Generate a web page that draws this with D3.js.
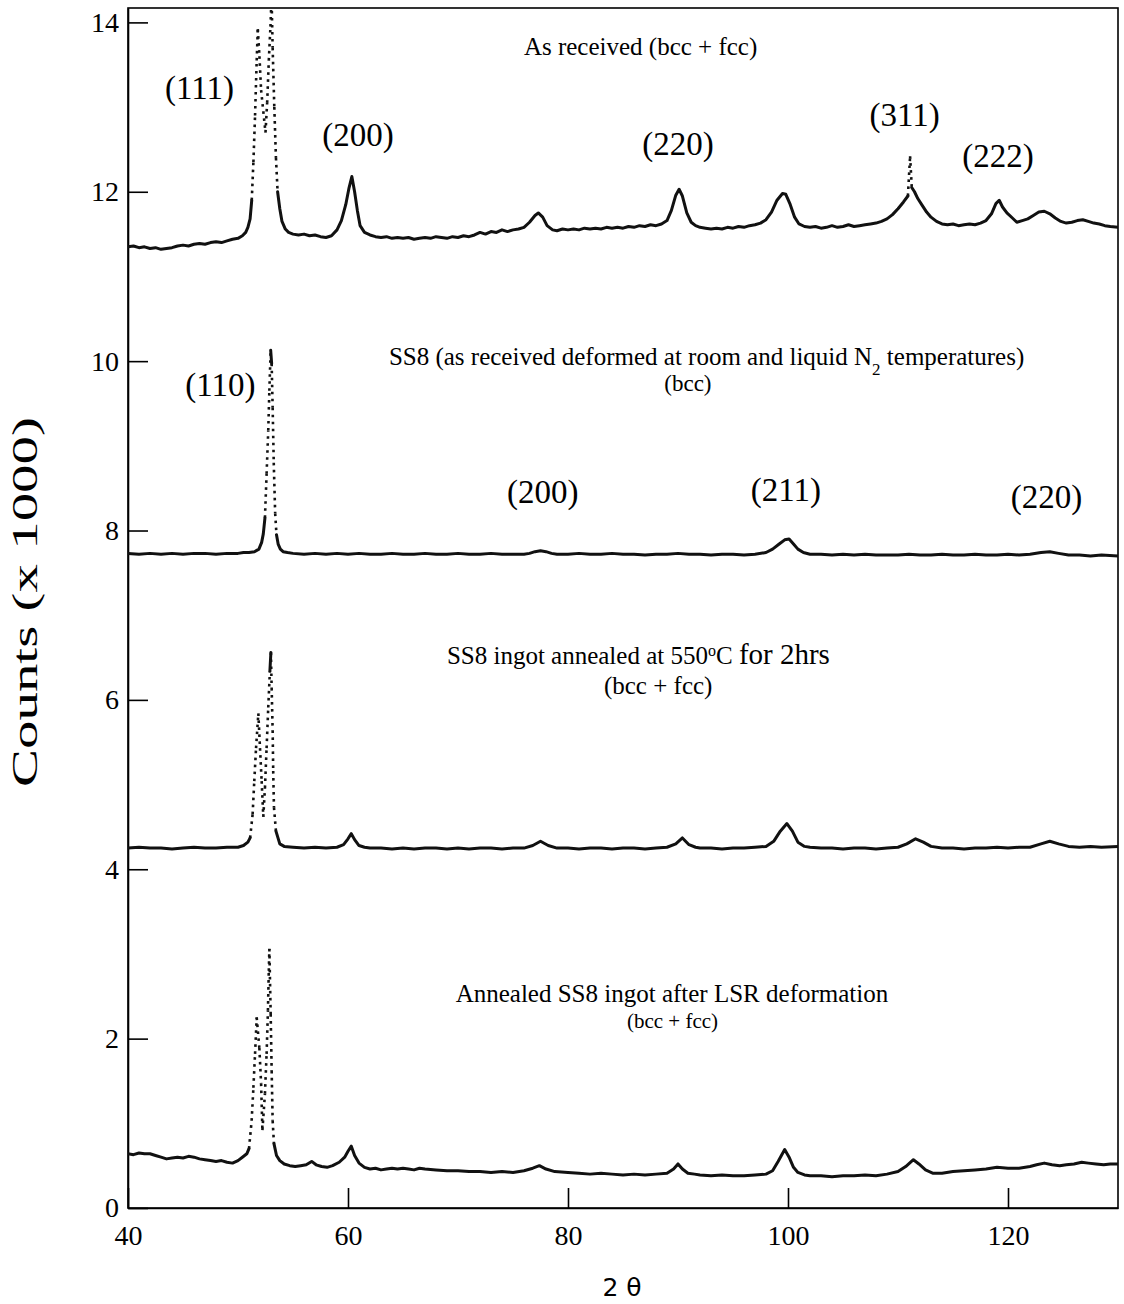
<!DOCTYPE html>
<html lang="en">
<head>
<meta charset="utf-8">
<script src="https://cdn.jsdelivr.net/npm/d3@7"></script>
<style>
body { margin:0; background:#fff; }
svg { display:block; }
path.trace {
	fill:none;
	stroke:#111;
	stroke-width:3;
	stroke-linejoin:round;
	stroke-linecap:round;
}
line.dots {
	stroke:#111;
	stroke-width:2.6;
	stroke-dasharray:2.6,4.4;
}
.axis path, .axis line { stroke:#000; stroke-width:1.6; }
.axis text { font-family:"Liberation Serif", serif; font-size:28px; fill:#000; }
text.lbl { font-family:"Liberation Serif", serif; fill:#000; }
</style>
</head>
<body>
<svg id="chart"></svg>
<script>
// 2-theta / counts (x1000), top to bottom
var asReceived = [[40,11.35],[40.5,11.36],[41,11.34],[41.5,11.35],[42,11.33],[42.5,11.34],[43,11.32],[43.5,11.33],[44,11.34],[44.5,11.36],
	[45,11.37],[45.5,11.36],[46,11.38],[46.5,11.39],[47,11.38],[47.5,11.40],[48,11.41],[48.5,11.40],[49,11.42],[49.5,11.44],
	[50,11.45],[50.4,11.48],[50.7,11.52],[50.9,11.58],[51.1,11.68],[51.25,11.9],[51.4,12.35],[51.55,12.9],[51.7,13.55],[51.8,13.92],
	[51.95,13.6],[52.1,13.2],[52.3,12.95],[52.5,12.70],[52.65,13.05],[52.8,13.55],[52.95,13.95],[53.05,14.3],[53.15,13.7],[53.3,13.0],
	[53.45,12.4],[53.6,12.0],[53.8,11.8],[54,11.65],[54.3,11.56],[54.6,11.52],[55,11.50],[55.5,11.49],[56,11.50],[56.5,11.48],
	[57,11.49],[57.5,11.47],[58,11.46],[58.5,11.48],[59,11.55],[59.4,11.66],[59.8,11.85],[60.1,12.05],[60.35,12.18],[60.6,12.0],
	[60.85,11.78],[61.1,11.60],[61.5,11.52],[62,11.49],[62.5,11.47],[63,11.46],[63.5,11.47],[64,11.45],[64.5,11.46],[65,11.45],
	[65.5,11.46],[66,11.44],[66.5,11.45],[67,11.46],[67.5,11.45],[68,11.47],[68.5,11.46],[69,11.45],[69.5,11.47],[70,11.46],
	[70.5,11.48],[71,11.47],[71.5,11.49],[72,11.52],[72.5,11.50],[73,11.53],[73.5,11.52],[74,11.55],[74.5,11.53],[75,11.55],
	[75.5,11.56],[76,11.58],[76.5,11.64],[77,11.72],[77.3,11.75],[77.7,11.70],[78.1,11.60],[78.6,11.55],[79,11.54],[79.5,11.56],
	[80,11.55],[80.5,11.56],[81,11.55],[81.5,11.57],[82,11.56],[82.5,11.57],[83,11.56],[83.5,11.58],[84,11.57],[84.5,11.58],
	[85,11.57],[85.5,11.59],[86,11.58],[86.5,11.60],[87,11.59],[87.5,11.61],[88,11.60],[88.5,11.62],[89,11.66],[89.4,11.78],
	[89.8,11.96],[90.1,12.03],[90.4,11.95],[90.8,11.75],[91.2,11.64],[91.6,11.60],[92,11.58],[92.5,11.57],[93,11.56],[93.5,11.57],
	[94,11.56],[94.5,11.58],[95,11.57],[95.5,11.59],[96,11.58],[96.5,11.60],[97,11.61],[97.5,11.63],[98,11.67],[98.5,11.76],
	[99,11.90],[99.5,11.98],[99.8,11.97],[100.2,11.85],[100.6,11.70],[101,11.62],[101.5,11.59],[102,11.58],[102.5,11.59],[103,11.57],
	[103.5,11.58],[104,11.60],[104.5,11.58],[105,11.59],[105.5,11.61],[106,11.59],[106.5,11.60],[107,11.61],[107.5,11.62],[108,11.63],
	[108.5,11.65],[109,11.68],[109.5,11.73],[110,11.80],[110.5,11.88],[110.9,11.95],[111.1,12.42],[111.25,12.05],[111.5,12.0],[111.8,11.92],
	[112.2,11.84],[112.6,11.76],[113,11.70],[113.5,11.65],[114,11.62],[114.5,11.61],[115,11.62],[115.5,11.60],[116,11.61],[116.5,11.62],
	[117,11.61],[117.5,11.63],[118,11.66],[118.5,11.74],[118.9,11.86],[119.2,11.90],[119.5,11.82],[119.9,11.75],[120.4,11.69],[120.8,11.64],
	[121.3,11.66],[121.8,11.68],[122.3,11.72],[122.8,11.76],[123.3,11.77],[123.8,11.74],[124.3,11.69],[124.8,11.65],[125.3,11.63],[125.8,11.64],
	[126.3,11.66],[126.8,11.67],[127.3,11.65],[127.8,11.63],[128.3,11.62],[128.8,11.60],[129.3,11.59],[130,11.58]];

var ss8 = [[40,7.73],[41,7.72],[42,7.73],[43,7.72],[44,7.73],[45,7.72],[46,7.73],[47,7.73],[48,7.72],[49,7.73],
	[50,7.73],[50.5,7.74],[51,7.74],[51.5,7.75],[51.9,7.78],[52.15,7.86],[52.3,7.96],[52.45,8.15],[52.6,8.67],[52.75,9.18],
	[52.85,9.65],[52.97,10.13],[53.06,9.97],[53.15,9.45],[53.25,8.8],[53.38,8.2],[53.5,7.95],[53.65,7.84],[53.85,7.78],[54.1,7.75],
	[54.5,7.74],[55,7.73],[56,7.72],[57,7.73],[58,7.72],[59,7.73],[60,7.72],[61,7.73],[62,7.72],[63,7.72],
	[64,7.73],[65,7.72],[66,7.72],[67,7.73],[68,7.72],[69,7.72],[70,7.73],[71,7.72],[72,7.72],[73,7.73],
	[74,7.72],[75,7.72],[76,7.72],[76.5,7.73],[77,7.75],[77.5,7.76],[78,7.75],[78.5,7.73],[79,7.72],[80,7.72],
	[81,7.73],[82,7.72],[83,7.72],[84,7.73],[85,7.72],[86,7.72],[87,7.71],[88,7.72],[89,7.72],[90,7.73],
	[91,7.72],[92,7.72],[93,7.71],[94,7.72],[95,7.72],[96,7.71],[97,7.72],[98,7.74],[98.6,7.78],[99.2,7.84],
	[99.7,7.89],[100.1,7.90],[100.5,7.84],[100.9,7.78],[101.4,7.74],[102,7.72],[103,7.72],[104,7.71],[105,7.72],[106,7.71],
	[107,7.72],[108,7.71],[109,7.71],[110,7.71],[111,7.72],[112,7.71],[113,7.71],[114,7.72],[115,7.71],[116,7.71],
	[117,7.72],[118,7.71],[119,7.71],[120,7.72],[121,7.71],[122,7.72],[123,7.74],[123.8,7.75],[124.6,7.73],[125.5,7.71],
	[126.5,7.71],[127.5,7.70],[128.5,7.71],[130,7.70]];

var annealed = [[40,4.25],[41,4.26],[42,4.25],[43,4.25],[44,4.24],[45,4.25],[46,4.26],[47,4.25],[48,4.25],[49,4.26],
	[50,4.26],[50.5,4.28],[50.9,4.32],[51.1,4.37],[51.33,4.65],[51.48,5.04],[51.64,5.43],[51.85,5.84],[52.0,5.43],[52.15,5.04],
	[52.3,4.62],[52.45,4.96],[52.6,5.43],[52.75,5.91],[52.9,6.34],[52.99,6.56],[53.06,6.14],[53.15,5.64],[53.2,5.16],[53.27,4.73],
	[53.45,4.45],[53.8,4.30],[54.2,4.27],[55,4.26],[56,4.25],[57,4.26],[58,4.25],[59,4.26],[59.6,4.29],[60,4.36],
	[60.3,4.42],[60.6,4.35],[61,4.28],[61.5,4.26],[62,4.25],[63,4.25],[64,4.24],[65,4.25],[66,4.24],[67,4.25],
	[68,4.25],[69,4.24],[70,4.25],[71,4.24],[72,4.25],[73,4.25],[74,4.24],[75,4.25],[76,4.25],[76.8,4.28],
	[77.5,4.33],[78.2,4.28],[79,4.25],[80,4.25],[81,4.24],[82,4.25],[83,4.25],[84,4.24],[85,4.25],[86,4.25],
	[87,4.24],[88,4.25],[89,4.26],[89.8,4.30],[90.4,4.37],[91,4.29],[91.6,4.26],[92,4.25],[93,4.25],[94,4.24],
	[95,4.25],[96,4.25],[97,4.26],[98,4.27],[98.7,4.33],[99.3,4.45],[99.9,4.54],[100.4,4.45],[100.9,4.32],[101.5,4.27],
	[102,4.26],[103,4.25],[104,4.25],[105,4.24],[106,4.25],[107,4.25],[108,4.24],[109,4.25],[110,4.26],[110.8,4.30],
	[111.6,4.36],[112.3,4.32],[113,4.27],[114,4.25],[115,4.25],[116,4.24],[117,4.25],[118,4.25],[119,4.26],[120,4.25],
	[121,4.26],[122,4.26],[123,4.30],[123.8,4.33],[124.6,4.30],[125.5,4.27],[126.5,4.26],[127.5,4.27],[128.5,4.26],[130,4.27]];

var annealedLSR = [[40,0.64],[40.5,0.63],[41,0.65],[41.5,0.64],[42,0.64],[42.5,0.62],[43,0.60],[43.5,0.58],[44,0.59],[44.5,0.60],
	[45,0.59],[45.5,0.61],[46,0.60],[46.5,0.58],[47,0.57],[47.5,0.56],[48,0.55],[48.5,0.56],[49,0.54],[49.5,0.53],
	[50,0.56],[50.4,0.60],[50.8,0.64],[51,0.70],[51.24,1.03],[51.4,1.42],[51.55,1.82],[51.7,2.25],[51.94,1.89],[52.1,1.47],
	[52.22,0.92],[52.45,1.35],[52.6,1.82],[52.72,2.33],[52.8,2.80],[52.85,3.06],[52.97,2.29],[53.06,1.62],[53.15,1.03],[53.27,0.76],
	[53.5,0.62],[53.8,0.56],[54.2,0.52],[54.7,0.50],[55.2,0.49],[55.7,0.50],[56.2,0.51],[56.7,0.55],[57.1,0.51],[57.6,0.49],
	[58.1,0.48],[58.6,0.50],[59.2,0.54],[59.7,0.60],[60,0.67],[60.3,0.73],[60.6,0.62],[61,0.53],[61.5,0.48],[62,0.46],
	[62.5,0.47],[63,0.45],[63.5,0.46],[64,0.47],[64.5,0.46],[65,0.47],[65.5,0.46],[66,0.45],[66.5,0.47],[67,0.46],
	[68,0.45],[69,0.44],[70,0.44],[71,0.43],[72,0.43],[73,0.42],[74,0.43],[75,0.42],[76,0.44],[76.8,0.47],
	[77.4,0.50],[78,0.46],[78.8,0.43],[80,0.42],[81,0.41],[82,0.40],[83,0.41],[84,0.40],[85,0.39],[86,0.40],
	[87,0.39],[88,0.40],[89,0.41],[89.6,0.46],[90,0.52],[90.4,0.46],[90.9,0.41],[91.5,0.40],[92,0.39],[93,0.38],
	[94,0.39],[95,0.38],[96,0.38],[97,0.39],[98,0.40],[98.6,0.44],[99.1,0.55],[99.7,0.69],[100.1,0.60],[100.5,0.48],
	[100.9,0.42],[101.5,0.39],[102,0.38],[103,0.38],[104,0.37],[105,0.38],[106,0.38],[107,0.39],[108,0.38],[109,0.40],
	[110,0.43],[110.7,0.49],[111.4,0.57],[111.9,0.52],[112.5,0.45],[113.2,0.41],[114,0.41],[115,0.43],[116,0.44],[117,0.45],
	[118,0.46],[119,0.48],[120,0.47],[121,0.47],[122,0.49],[122.6,0.51],[123.3,0.53],[124,0.51],[124.7,0.50],[125.3,0.51],
	[126,0.52],[126.7,0.54],[127.3,0.53],[128,0.52],[128.7,0.51],[129.3,0.52],[130,0.52]];

var xTicks = [40, 60, 80, 100, 120];
var yTicks = [0, 2, 4, 6, 8, 10, 12, 14];

// peak indices: label, 2theta, counts
var peaksFcc = [['(111)',46.5,13.10],['(200)',60.9,12.54],['(220)',90.0,12.44],['(311)',110.6,12.78],['(222)',119.1,12.29]];
var peaksBcc = [['(110)',48.4,9.59],['(200)',77.7,8.33],['(211)',99.8,8.35],['(220)',123.5,8.27]];

var W = 1124, H = 1304;
var m = {left:128, top:8, right:6, bottom:96};
var iw = W - m.left - m.right, ih = H - m.top - m.bottom;

var svg = d3.select('#chart').attr('width', W).attr('height', H);
var x = d3.scaleLinear().domain([40, 130]).range([0, iw]);
var y = d3.scaleLinear().domain([0, 14.17]).range([ih, 0]);

var g = svg.append('g').attr('transform', 'translate(' + m.left + ',' + m.top + ')');

svg.append('defs').append('clipPath').attr('id', 'plotclip')
	.append('rect').attr('width', iw).attr('height', ih);

// frame
g.append('rect').attr('width', iw).attr('height', ih)
	.attr('fill', 'none').attr('stroke', '#000').attr('stroke-width', 1.6);

g.append('g').attr('class', 'axis')
	.call(d3.axisLeft(y).tickValues(yTicks).tickSizeInner(-20).tickSizeOuter(0).tickPadding(9))
	.select('.domain').attr('stroke-width', 2.6);

g.append('g').attr('class', 'axis').attr('transform', 'translate(0,' + ih + ')')
	.call(d3.axisBottom(x).tickValues(xTicks).tickSizeInner(-20).tickSizeOuter(0).tickPadding(17))
	.select('.domain').attr('stroke-width', 2.2);

var line = d3.line().x(function(d){return x(d[0]);}).y(function(d){return y(d[1]);});

function drawTrace(data) {
	// steep parts of the scan show up as separate dots, the rest as a fuzzy line
	var runs = [], steep = [], run = [data[0]];
	d3.pairs(data).forEach(function(p){
		if (Math.abs(y(p[0][1]) - y(p[1][1])) > 20) {
			if (run.length > 1) runs.push(run);
			run = [p[1]];
			steep.push(p);
		} else {
			run.push(p[1]);
		}
	});
	if (run.length > 1) runs.push(run);

	var t = g.append('g').attr('clip-path', 'url(#plotclip)');
	t.selectAll('path.trace').data(runs).enter()
		.append('path').attr('class', 'trace').attr('d', line);
	t.selectAll('line.dots').data(steep).enter()
		.append('line').attr('class', 'dots')
		.attr('x1', function(p){return x(p[0][0]);})
		.attr('y1', function(p){return y(p[0][1]);})
		.attr('x2', function(p){return x(p[1][0]);})
		.attr('y2', function(p){return y(p[1][1]);});
}

[asReceived, ss8, annealed, annealedLSR].forEach(drawTrace);

function peakLabels(list) {
	g.selectAll(null).data(list).enter().append('text')
		.attr('class', 'lbl')
		.attr('x', function(d){return x(d[1]);})
		.attr('y', function(d){return y(d[2]);})
		.attr('text-anchor', 'middle')
		.style('font-size', '33px')
		.text(function(d){return d[0];});
}
peakLabels(peaksFcc);
peakLabels(peaksBcc);

// sample captions
function caption(tx, ty, size) {
	return g.append('text').attr('class', 'lbl')
		.attr('x', x(tx)).attr('y', y(ty))
		.attr('text-anchor', 'middle')
		.style('font-size', size + 'px');
}
caption(86.6, 13.61, 25).text('As received (bcc + fcc)');

var c2 = caption(92.6, 9.96, 25);
c2.append('tspan').text('SS8 (as received deformed at room and liquid N');
c2.append('tspan').attr('baseline-shift', 'sub').style('font-size', '17px').text('2');
c2.append('tspan').text(' temperatures)');
caption(90.9, 9.65, 23).text('(bcc)');

var c3 = caption(86.4, 6.42, 25);
c3.append('tspan').text('SS8 ingot annealed at 550');
c3.append('tspan').attr('baseline-shift', 'super').style('font-size', '16px').text('o');
c3.append('tspan').text('C ');
c3.append('tspan').style('font-size', '29px').text('for 2hrs');
caption(88.2, 6.07, 25).text('(bcc + fcc)');

caption(89.45, 2.43, 25).text('Annealed SS8 ingot after LSR deformation');
caption(89.5, 2.13, 21).text('(bcc + fcc)');

// axis titles
svg.append('text').attr('class', 'lbl')
	.attr('transform', 'translate(37,602) rotate(-90)')
	.attr('text-anchor', 'middle')
	.attr('textLength', 370)
	.attr('lengthAdjust', 'spacingAndGlyphs')
	.style('font-size', '36px')
	.text('Counts (x 1000)');

svg.append('text')
	.attr('x', 622).attr('y', 1296)
	.attr('text-anchor', 'middle')
	.style('font-family', '"DejaVu Sans", sans-serif')
	.style('font-size', '25px')
	.text('2 θ');
</script>
</body>
</html>
